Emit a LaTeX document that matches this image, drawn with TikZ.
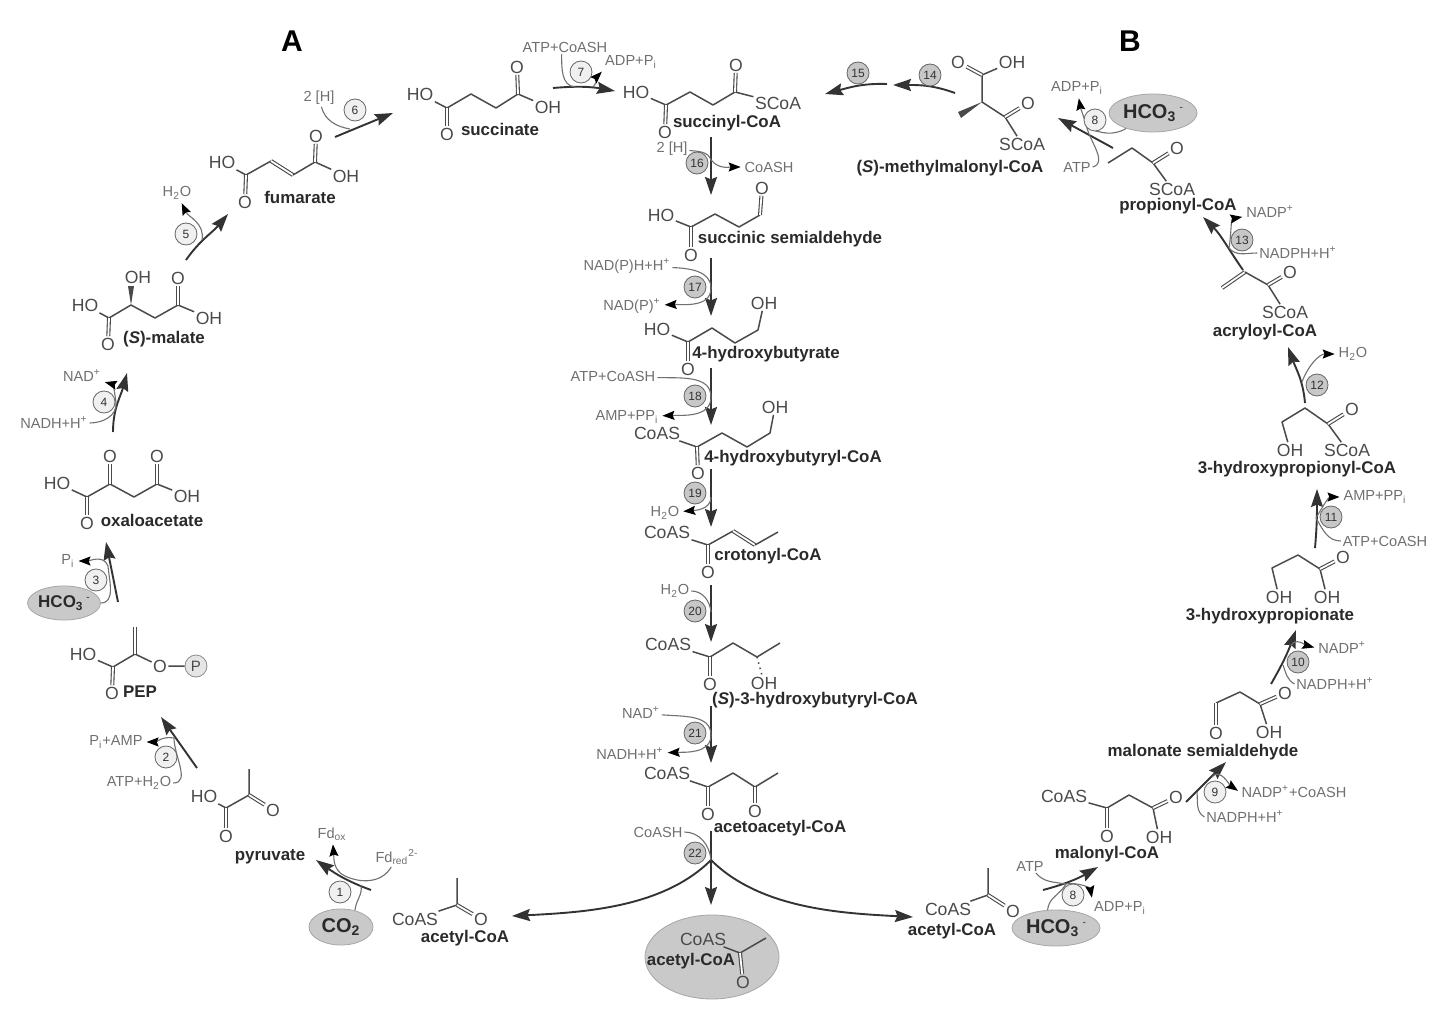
\documentclass[tikz,border=0pt]{standalone}
\usepackage{fontspec}
\setmainfont{Liberation Sans}
\usetikzlibrary{arrows.meta,shapes.geometric}
\definecolor{atomcol}{HTML}{4A4A4A}
\definecolor{labelcol}{HTML}{2A2A2A}
\definecolor{cofcol}{HTML}{707070}
\definecolor{bubble}{HTML}{C9C9C9}
\newcommand{\subt}[1]{\textsubscript{#1}}
\newcommand{\supt}[1]{\textsuperscript{#1}}
\newcommand{\minus}{\,\raisebox{0.75ex}{\fontsize{5}{5}\selectfont\mdseries -}}

\begin{document}
\begin{tikzpicture}[
    x=0.5pt, y=-0.5pt,
    % Stili dei nodi
    atom/.style={font=\fontsize{8.8}{9}\selectfont, text=atomcol, inner sep=0.6pt},
    metabolite/.style={font=\fontsize{8.45}{9}\selectfont\bfseries, text=labelcol, inner sep=0pt, yshift=-0.8pt},
    cofactor/.style={font=\fontsize{7.3}{8}\selectfont, text=cofcol, inner sep=0.8pt},
    stepnum/.style={circle, draw=black!60, fill=black!6, inner sep=0pt, minimum size=11pt,
        font=\fontsize{6}{6}\selectfont, text=black!80},
    stepdark/.style={stepnum, fill=black!22},
    bubblenode/.style={ellipse, draw=black!35, fill=bubble, inner sep=0pt,
        font=\fontsize{10}{10}\selectfont\bfseries, text=labelcol},
    panel/.style={font=\fontsize{15}{15}\selectfont\bfseries, inner sep=0pt},
    bond/.style={draw=atomcol, line width=0.75pt, line join=round},
    dbond/.style={draw=atomcol, double=white, double distance=0.9pt, line width=0.55pt},
    mainarrow/.style={-{Stealth[length=9pt,width=6pt,inset=1.2pt]}, draw=black!80, line width=0.95pt},
    cofline/.style={draw=cofcol, line width=0.55pt},
    cofarrow/.style={-{Stealth[length=6pt,width=4.5pt,inset=0.9pt,color=black]}, draw=cofcol, line width=0.55pt, shorten >=1pt}
]
\useasboundingbox (0,0) rectangle (1440,1022);

% Titoli
\node[panel] (panelA) at (292,41) {A};
\node[panel] (panelB) at (1130,41) {B};

% Ciclo A: molecole
\node[atom] (sucHO) at (420,94) {HO};
\node[atom] (sucO1) at (447,134) {O};
\node[atom] (sucO2) at (517,67) {O};
\node[atom] (sucOH) at (548,107) {OH};
\node[metabolite] (sucL) at (500,128) {succinate};
\draw[bond] (sucHO) -- (447,108) -- (471,94) -- (496,108) -- (518,94) -- (sucOH);
\draw[dbond] (447,108) -- (sucO1);
\draw[dbond] (518,94) -- (sucO2);

\node[atom] (fumHO) at (222,162) {HO};
\node[atom] (fumO1) at (245,202) {O};
\node[atom] (fumO2) at (316,136) {O};
\node[atom] (fumOH) at (346,176) {OH};
\node[metabolite] (fumL) at (300,196) {fumarate};
\draw[bond] (fumHO) -- (246,175) -- (271,161);
\draw[dbond] (271,161) -- (293,175);
\draw[bond] (293,175) -- (315,162) -- (fumOH);
\draw[dbond] (246,175) -- (fumO1);
\draw[dbond] (315,162) -- (fumO2);

\node[atom] (malHO) at (85,305) {HO};
\node[atom] (malOH1) at (138,277) {OH};
\node[atom] (malO2) at (178,278) {O};
\node[atom] (malOH2) at (209,318) {OH};
\node[atom] (malO1) at (108,344) {O};
\node[metabolite] (malL) at (164,338) {(\textit{S})-malate};
\draw[bond] (malHO) -- (109,318) -- (131,305) -- (155,318) -- (178,305) -- (malOH2);
\draw[dbond] (109,318) -- (malO1);
\draw[dbond] (178,305) -- (malO2);
\fill[atomcol] (131,305) -- (128,286) -- (134,286) -- cycle;

\node[atom] (oxaHO) at (57,483) {HO};
\node[atom] (oxaO2) at (110,456) {O};
\node[atom] (oxaO3) at (157,456) {O};
\node[atom] (oxaOH) at (187,496) {OH};
\node[atom] (oxaO1) at (87,523) {O};
\node[metabolite] (oxaL) at (152,519) {oxaloacetate};
\draw[bond] (oxaHO) -- (87,497) -- (110,484) -- (134,497) -- (157,484) -- (oxaOH);
\draw[dbond] (87,497) -- (oxaO1);
\draw[dbond] (110,484) -- (oxaO2);
\draw[dbond] (157,484) -- (oxaO3);

\node[atom] (pepHO) at (83,654) {HO};
\node[atom] (pepO1) at (112,693) {O};
\node[atom] (pepO2) at (160,666) {O};
\node[circle, draw=black!45, fill=black!10, inner sep=0pt, minimum size=11pt,
      font=\fontsize{7.5}{8}\selectfont, text=atomcol] (pepP) at (196,666) {P};
\node[metabolite] (pepL) at (140,690) {PEP};
\draw[bond] (pepHO) -- (113,667) -- (135,654) -- (pepO2) -- (pepP);
\draw[dbond] (113,667) -- (pepO1);
\draw[dbond] (135,654) -- (135,627);

\node[atom] (pyrHO) at (204,796) {HO};
\node[atom] (pyrO1) at (226,836) {O};
\node[atom] (pyrO2) at (273,810) {O};
\node[metabolite] (pyrL) at (270,855) {pyruvate};
\draw[bond] (pyrHO) -- (226,808) -- (249,795) -- (249,769);
\draw[dbond] (226,808) -- (pyrO1);
\draw[dbond] (249,795) -- (pyrO2);

\node[atom] (aclS) at (415,919) {CoAS};
\node[atom] (aclO) at (481,919) {O};
\node[metabolite] (aclL) at (465,937) {acetyl-CoA};
\draw[bond] (aclS) -- (457,905) -- (457,878);
\draw[dbond] (457,905) -- (aclO);

% Colonna centrale: molecole
\node[atom] (sccHO) at (636,92) {HO};
\node[atom] (sccO1) at (665,132) {O};
\node[atom] (sccO2) at (736,65) {O};
\node[atom] (sccS) at (778,103) {SCoA};
\node[metabolite] (sccL) at (727,122) {succinyl-CoA};
\draw[bond] (sccHO) -- (666,105) -- (690,92) -- (713,105) -- (735,92) -- (sccS);
\draw[dbond] (666,105) -- (sccO1);
\draw[dbond] (735,92) -- (sccO2);

\node[atom] (ssaHO) at (661,215) {HO};
\node[atom] (ssaO1) at (691,255) {O};
\node[atom] (ssaO2) at (762,188) {O};
\node[metabolite] (ssaL) at (790,238) {succinic semialdehyde};
\draw[bond] (ssaHO) -- (691,227) -- (715,214) -- (739,227) -- (760,215);
\draw[dbond] (691,227) -- (ssaO1);
\draw[dbond] (760,215) -- (ssaO2);

\node[atom] (hbuHO) at (657,329) {HO};
\node[atom] (hbuO) at (688,369) {O};
\node[atom] (hbuOH) at (764,303) {OH};
\node[metabolite] (hbuL) at (766,353) {4-hydroxybutyrate};
\draw[bond] (hbuHO) -- (688,342) -- (712,328) -- (735,343) -- (758,330) -- (hbuOH);
\draw[dbond] (688,342) -- (hbuO);

\node[atom] (hbcS) at (657,433) {CoAS};
\node[atom] (hbcO) at (698,473) {O};
\node[atom] (hbcOH) at (775,407) {OH};
\node[metabolite] (hbcL) at (793,457) {4-hydroxybutyryl-CoA};
\draw[bond] (hbcS) -- (697,447) -- (722,433) -- (747,447) -- (770,433) -- (hbcOH);
\draw[dbond] (697,447) -- (hbcO);

\node[atom] (croS) at (667,532) {CoAS};
\node[atom] (croO) at (708,572) {O};
\node[metabolite] (croL) at (768,555) {crotonyl-CoA};
\draw[bond] (croS) -- (708,545) -- (733,531);
\draw[dbond] (733,531) -- (755,545);
\draw[bond] (755,545) -- (778,532);
\draw[dbond] (708,545) -- (croO);

\node[atom] (hbyS) at (668,644) {CoAS};
\node[atom] (hbyO) at (710,684) {O};
\node[atom] (hbyOH) at (764,683) {OH};
\node[metabolite] (hbyL) at (815,699) {(\textit{S})-3-hydroxybutyryl-CoA};
\draw[bond] (hbyS) -- (710,657) -- (733,643) -- (757,657) -- (780,643);
\draw[dbond] (710,657) -- (hbyO);
\draw[bond, dotted] (757,657) -- (hbyOH);

\node[atom] (aacS) at (667,773) {CoAS};
\node[atom] (aacO1) at (708,814) {O};
\node[atom] (aacO2) at (755,811) {O};
\node[metabolite] (aacL) at (780,827) {acetoacetyl-CoA};
\draw[bond] (aacS) -- (708,787) -- (733,773) -- (755,787) -- (778,773);
\draw[dbond] (708,787) -- (aacO1);
\draw[dbond] (755,787) -- (aacO2);

% Acetil-CoA prodotto
\node[ellipse, draw=black!35, fill=bubble, minimum width=67pt, minimum height=42pt, inner sep=0pt] (acpB) at (712,957) {};
\node[atom] (acpS) at (703,939) {CoAS};
\node[atom] (acpO) at (743,982) {O};
\node[metabolite] (acpL) at (691,960) {acetyl-CoA};
\draw[bond] (acpS) -- (740,953) -- (766,938);
\draw[dbond] (740,953) -- (acpO);

% Ciclo B: molecole
\node[atom] (acrS) at (948,909) {CoAS};
\node[atom] (acrO) at (1013,911) {O};
\node[metabolite] (acrL) at (952,930) {acetyl-CoA};
\draw[bond] (acrS) -- (988,895) -- (988,868);
\draw[dbond] (988,895) -- (acrO);

\node[atom] (mloS) at (1064,796) {CoAS};
\node[atom] (mloO1) at (1107,836) {O};
\node[atom] (mloOH) at (1159,837) {OH};
\node[atom] (mloO2) at (1176,797) {O};
\node[metabolite] (mloL) at (1107,853) {malonyl-CoA};
\draw[bond] (mloS) -- (1107,808) -- (1129,795) -- (1153,808) -- (mloOH);
\draw[dbond] (1107,808) -- (mloO1);
\draw[dbond] (1153,808) -- (mloO2);

\node[atom] (msaO1) at (1216,733) {O};
\node[atom] (msaOH) at (1269,732) {OH};
\node[atom] (msaO2) at (1285,693) {O};
\node[metabolite] (msaL) at (1203,751) {malonate semialdehyde};
\draw[bond] (1216,703) -- (1240,692) -- (1260,704) -- (msaOH);
\draw[dbond] (1216,703) -- (msaO1);
\draw[dbond] (1260,704) -- (msaO2);

\node[atom] (hprOH1) at (1279,597) {OH};
\node[atom] (hprOH2) at (1327,597) {OH};
\node[atom] (hprO) at (1343,557) {O};
\node[metabolite] (hprL) at (1270,615) {3-hydroxypropionate};
\draw[bond] (hprOH1) -- (1272,568) -- (1298,555) -- (1320,569) -- (hprOH2);
\draw[dbond] (1320,569) -- (hprO);

\node[atom] (hpcOH) at (1290,450) {OH};
\node[atom] (hpcS) at (1347,450) {SCoA};
\node[atom] (hpcO) at (1352,409) {O};
\node[metabolite] (hpcL) at (1297,468) {3-hydroxypropionyl-CoA};
\draw[bond] (hpcOH) -- (1282,422) -- (1305,408) -- (1328,424) -- (hpcS);
\draw[dbond] (1328,424) -- (hpcO);

\node[atom] (acyS) at (1285,312) {SCoA};
\node[atom] (acyO) at (1290,272) {O};
\node[metabolite] (acyL) at (1265,331) {acryloyl-CoA};
\draw[dbond] (1222,288) -- (1245,272);
\draw[bond] (1245,272) -- (1268,285) -- (acyS);
\draw[dbond] (1268,285) -- (acyO);

\node[atom] (proS) at (1172,189) {SCoA};
\node[atom] (proO) at (1177,148) {O};
\node[metabolite] (proL) at (1178,205) {propionyl-CoA};
\draw[bond] (1108,163) -- (1132,148) -- (1153,163) -- (proS);
\draw[dbond] (1153,163) -- (proO);

\node[atom] (mmcO) at (958,62) {O};
\node[atom] (mmcOH) at (1012,62) {OH};
\node[atom] (mmcO2) at (1028,103) {O};
\node[atom] (mmcS) at (1022,144) {SCoA};
\node[metabolite] (mmcL) at (950,167) {(\textit{S})-methylmalonyl-CoA};
\draw[bond] (mmcOH) -- (982,75) -- (982,102) -- (1005,117) -- (mmcS);
\draw[dbond] (982,75) -- (mmcO);
\draw[dbond] (1005,117) -- (mmcO2);
\fill[atomcol] (982,102) -- (958,112) -- (961,118) -- cycle;

% Substrati e cofattori
\node[bubblenode, minimum width=30pt, minimum height=17pt, font=\fontsize{8.5}{9}\selectfont\bfseries] (hco3a) at (64,603) {HCO\subt{3}\minus};
\node[bubblenode, minimum width=32pt, minimum height=18pt] (co2) at (341,927) {CO\subt{2}};
\node[bubblenode, minimum width=44pt, minimum height=18pt] (hco3b) at (1056,928) {HCO\subt{3}\minus};
\node[bubblenode, minimum width=44pt, minimum height=19pt] (hco3c) at (1153,113) {HCO\subt{3}\minus};

\node[cofactor] (fdo) at (332,834) {Fd\subt{ox}};
\node[cofactor] (fdr) at (397,857) {Fd\subt{red}\supt{2-}};
\node[cofactor] (piamp) at (116,742) {P\subt{i}+AMP};
\node[cofactor] (atph) at (139,783) {ATP+H\subt{2}O};
\node[cofactor] (pia) at (68,561) {P\subt{i}};
\node[cofactor] (nadha) at (54,423) {NADH+H\supt{+}};
\node[cofactor] (nada) at (82,376) {NAD\supt{+}};
\node[cofactor] (watera) at (177,193) {H\subt{2}O};
\node[cofactor] (hhA) at (319,98) {2 [H]};
\node[cofactor] (atpcoa) at (565,47) {ATP+CoASH};
\node[cofactor] (adppi) at (631,62) {ADP+P\subt{i}};
\node[cofactor] (hhB) at (672,149) {2 [H]};
\node[cofactor] (coashA) at (769,167) {CoASH};
\node[cofactor] (nadph) at (627,266) {NAD(P)H+H\supt{+}};
\node[cofactor] (nadp) at (632,306) {NAD(P)\supt{+}};
\node[cofactor] (atpcob) at (613,376) {ATP+CoASH};
\node[cofactor] (amppp) at (627,417) {AMP+PP\subt{i}};
\node[cofactor] (waterb) at (665,513) {H\subt{2}O};
\node[cofactor] (waterc) at (675,591) {H\subt{2}O};
\node[cofactor] (nadb) at (641,713) {NAD\supt{+}};
\node[cofactor] (nadhb) at (630,754) {NADH+H\supt{+}};
\node[cofactor] (coashB) at (658,832) {CoASH};
\node[cofactor] (atpc) at (1030,866) {ATP};
\node[cofactor] (adpb) at (1120,908) {ADP+P\subt{i}};
\node[cofactor] (nadpcoa) at (1294,792) {NADP\supt{+}+CoASH};
\node[cofactor] (nadphc) at (1245,817) {NADPH+H\supt{+}};
\node[cofactor] (nadpd) at (1342,648) {NADP\supt{+}};
\node[cofactor] (nadphd) at (1335,684) {NADPH+H\supt{+}};
\node[cofactor] (ampppb) at (1375,497) {AMP+PP\subt{i}};
\node[cofactor] (atpcoc) at (1385,541) {ATP+CoASH};
\node[cofactor] (waterd) at (1353,354) {H\subt{2}O};
\node[cofactor] (nadpe) at (1270,212) {NADP\supt{+}};
\node[cofactor] (nadphe) at (1298,253) {NADPH+H\supt{+}};
\node[cofactor] (adpc) at (1077,88) {ADP+P\subt{i}};
\node[cofactor] (atpd) at (1077,167) {ATP};

% Punti delle frecce
\coordinate (a1) at (371,890); \coordinate (b1) at (316,860); \coordinate (m1) at (345,876); \coordinate (n1) at (361,885);
\coordinate (a2) at (197,768); \coordinate (b2) at (161,717); \coordinate (m2) at (174,738);
\coordinate (a3) at (118,602); \coordinate (b3) at (106,542); \coordinate (m3) at (108,566);
\coordinate (a4) at (113,432); \coordinate (b4) at (127,373); \coordinate (m4) at (116,403);
\coordinate (a5) at (186,260); \coordinate (b5) at (228,214); \coordinate (m5) at (202,240);
\coordinate (a6) at (335,137); \coordinate (b6) at (393,113); \coordinate (m6) at (350,129);
\coordinate (a7) at (553,88); \coordinate (b7) at (615,91); \coordinate (m7) at (575,87); \coordinate (n7) at (593,87);
\coordinate (a14) at (955,93); \coordinate (b14) at (893,85);
\coordinate (a15) at (887,84); \coordinate (b15) at (825,94);
\coordinate (a16) at (711,137); \coordinate (b16) at (711,195); \coordinate (m16) at (711,160);
\coordinate (a17) at (711,258); \coordinate (b17) at (711,316); \coordinate (m17) at (711,288);
\coordinate (a18) at (711,368); \coordinate (b18) at (711,425); \coordinate (m18) at (711,397);
\coordinate (a19) at (711,469); \coordinate (b19) at (711,527); \coordinate (m19) at (711,497);
\coordinate (a20) at (711,585); \coordinate (b20) at (711,642); \coordinate (m20) at (711,612);
\coordinate (a21) at (711,706); \coordinate (b21) at (711,763); \coordinate (m21) at (711,735);
\coordinate (a22) at (711,831); \coordinate (b22) at (711,905); \coordinate (m22) at (711,860);
\coordinate (tipL) at (512,916); \coordinate (tipR) at (913,917);
\coordinate (a8) at (1043,890); \coordinate (b8) at (1098,867); \coordinate (m8) at (1066,884);
\coordinate (a9) at (1186,802); \coordinate (b9) at (1226,762); \coordinate (m9) at (1212,777); \coordinate (n9) at (1197,792);
\coordinate (a10) at (1271,684); \coordinate (b10) at (1296,630); \coordinate (m10) at (1291,646); \coordinate (n10) at (1283,665);
\coordinate (a11) at (1315,548); \coordinate (b11) at (1317,489); \coordinate (m11) at (1316,518);
\coordinate (a12) at (1305,403); \coordinate (b12) at (1288,347); \coordinate (m12) at (1302,382);
\coordinate (a13) at (1243,270); \coordinate (b13) at (1203,217); \coordinate (m13) at (1229,248);
\coordinate (a23) at (1113,148); \coordinate (b23) at (1058,118); \coordinate (m23) at (1087,128);

% Frecce principali
\draw[mainarrow] (a1) to[out=160,in=-35] (b1);
\draw[mainarrow] (a2) -- (b2);
\draw[mainarrow] (a3) -- (b3);
\draw[mainarrow] (a4) to[out=90,in=-105] (b4);
\draw[mainarrow] (a5) to[out=55,in=-130] (b5);
\draw[mainarrow] (a6) -- (b6);
\draw[mainarrow] (a7) to[out=5,in=170] (b7);
\draw[mainarrow] (a14) to[out=160,in=0] (b14);
\draw[mainarrow] (a15) to[out=178,in=15] (b15);
\draw[mainarrow] (a16) -- (b16);
\draw[mainarrow] (a17) -- (b17);
\draw[mainarrow] (a18) -- (b18);
\draw[mainarrow] (a19) -- (b19);
\draw[mainarrow] (a20) -- (b20);
\draw[mainarrow] (a21) -- (b21);
\draw[mainarrow] (a22) -- (b22);
\draw[mainarrow] (m22) to[out=-135,in=3,looseness=0.85] (tipL);
\draw[mainarrow] (m22) to[out=-45,in=177,looseness=0.85] (tipR);
\draw[mainarrow] (a8) to[out=15,in=-150] (b8);
\draw[mainarrow] (a9) -- (b9);
\draw[mainarrow] (a10) to[out=60,in=-110] (b10);
\draw[mainarrow] (a11) to[out=85,in=-90] (b11);
\draw[mainarrow] (a12) to[out=95,in=-70] (b12);
\draw[mainarrow] (a13) to[out=125,in=-45] (b13);
\draw[mainarrow] (a23) -- (b23);

% Cofattori sulle frecce
\draw[cofline] (fdr) to[out=-120,in=-25] (m1);
\draw[cofarrow] (m1) to[out=155,in=-85] (fdo);
\draw[cofline] (co2.50) to[out=85,in=-80] (n1);
\draw[cofline] (atph) to[out=0,in=-90] (m2);
\draw[cofarrow] (m2) to[out=170,in=0] (piamp);
\draw[cofline] (hco3a) to[out=0,in=-85] (m3);
\draw[cofarrow] (m3) to[out=110,in=0] (pia);
\draw[cofline] (nadha) to[out=0,in=-85] (m4);
\draw[cofarrow] (m4) to[out=95,in=-15] (nada);
\draw[cofarrow] (m5) to[out=80,in=-65] (watera);
\draw[cofline] (hhA) to[out=-75,in=170] (m6);
\draw[cofline] (atpcoa.-115) to[out=-90,in=175] (m7);
\draw[cofarrow] (n7) to[out=50,in=-135] (adppi.south west);
\draw[cofline] (hhB) to[out=-5,in=110] (m16);
\draw[cofarrow] (m16) to[out=-50,in=180] (coashA);
\draw[cofline] (nadph) to[out=-2,in=90] (m17);
\draw[cofarrow] (m17) to[out=-90,in=2] (nadp);
\draw[cofline] (atpcob) to[out=-2,in=90] (m18);
\draw[cofarrow] (m18) to[out=-90,in=2] (amppp);
\draw[cofarrow] (m19) to[out=-90,in=5] (waterb);
\draw[cofline] (waterc) to[out=0,in=95] (m20);
\draw[cofline] (nadb) to[out=-5,in=90] (m21);
\draw[cofarrow] (m21) to[out=-90,in=2] (nadhb);
\draw[cofline] (coashB) to[out=0,in=95] (m22);
\draw[cofline] (atpc) to[out=-50,in=170] (m8);
\draw[cofline] (hco3b.115) to[out=85,in=-120] (m8);
\draw[cofarrow] (m8) to[out=10,in=100] (adpb.north west);
\draw[cofline] (nadphc.west) to[out=150,in=-85] (n9);
\draw[cofarrow] (m9) to[out=50,in=145] (nadpcoa.west);
\draw[cofline] (nadphd.west) to[out=150,in=-70] (n10);
\draw[cofarrow] (m10) to[out=70,in=165] (nadpd.west);
\draw[cofline] (atpcoc) to[out=180,in=-60] (m11);
\draw[cofarrow] (m11) to[out=60,in=180] (ampppb);
\draw[cofarrow] (m12) to[out=70,in=180] (waterd);
\draw[cofline] (nadphe) to[out=180,in=-50] (m13);
\draw[cofarrow] (m13) to[out=80,in=190] (nadpe);
\draw[cofline] (atpd.east) to[out=15,in=-75] (m23);
\draw[cofline] (hco3c.-150) to[out=-150,in=-20] (m23);
\draw[cofarrow] (m23) to[out=105,in=-80] (adpc);

% Numeri delle reazioni
\node[stepnum] (n1c) at (340,892) {1};
\node[stepnum] (n2c) at (166,757) {2};
\node[stepnum] (n3c) at (96,580) {3};
\node[stepnum] (n4c) at (104,402) {4};
\node[stepnum] (n5c) at (186,234) {5};
\node[stepnum] (n6c) at (355,110) {6};
\node[stepnum] (n7c) at (581,72) {7};
\node[stepnum] (n8c) at (1073,895) {8};
\node[stepnum] (n9c) at (1215,792) {9};
\node[stepdark] (n10c) at (1298,662) {10};
\node[stepdark] (n11c) at (1331,517) {11};
\node[stepdark] (n12c) at (1317,385) {12};
\node[stepdark] (n13c) at (1242,240) {13};
\node[stepnum] (n8b) at (1095,120) {8};
\node[stepdark] (n14c) at (930,75) {14};
\node[stepdark] (n15c) at (858,73) {15};
\node[stepdark] (n16c) at (697,163) {16};
\node[stepdark] (n17c) at (695,287) {17};
\node[stepdark] (n18c) at (695,396) {18};
\node[stepdark] (n19c) at (695,493) {19};
\node[stepdark] (n20c) at (695,611) {20};
\node[stepdark] (n21c) at (695,733) {21};
\node[stepdark] (n22c) at (695,853) {22};

\end{tikzpicture}
\end{document}
